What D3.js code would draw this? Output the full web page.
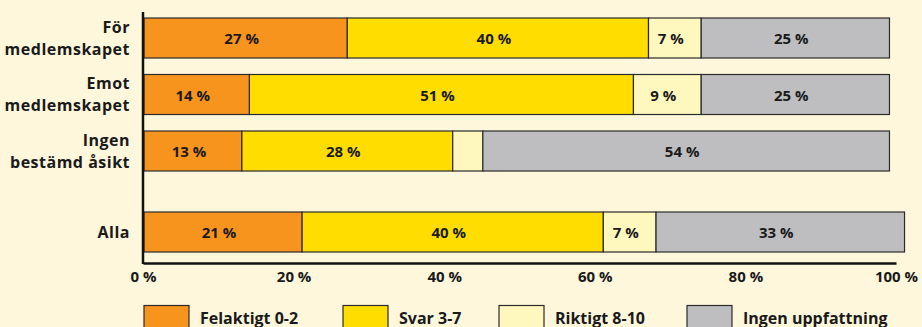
<!DOCTYPE html>
<html>
<head>
<meta charset="utf-8">
<script src="https://cdn.jsdelivr.net/npm/d3@7"></script>
<style>
  html, body { margin: 0; padding: 0; background: #FEF7DC; }
  svg { display: block; font-family: "Open Sans", "Noto Sans", sans-serif; font-weight: 700; }
</style>
</head>
<body>
<svg id="chart" width="922" height="327"></svg>
<script>
// Opinion groups (label lines) and the overall row
const categories = [
  ["För", "medlemskapet"],
  ["Emot", "medlemskapet"],
  ["Ingen", "bestämd åsikt"],
  ["Alla"]
];
// Answer classes, in stacking order
const seriesNames = ["Felaktigt 0-2", "Svar 3-7", "Riktigt 8-10", "Ingen uppfattning"];
const seriesColors = ["#F7941E", "#FFDD00", "#FFF8BE", "#BEBEC0"];
// Shares in percent per group
const felaktigt = [27, 14, 13, 21];
const svar = [40, 51, 28, 40];
const riktigt = [7, 9, 4, 7];
const ingenUppfattning = [25, 25, 54, 33];
// Segments too narrow to carry a label
const showLabel = [[true, true, true, true], [true, true, true, true], [true, true, false, true], [true, true, true, true]];
const xTicks = [0, 20, 40, 60, 80, 100];

const seriesValues = [felaktigt, svar, riktigt, ingenUppfattning];

const svg = d3.select("#chart");
const x = d3.scaleLinear().domain([0, 100]).range([143, 896]);

const rowKeys = categories.map((c, i) => i);
// 56.5 px per row, 40 px bars
const y = d3.scaleBand().domain(rowKeys).range([18, 227.5]).paddingInner(16.5 / 56.5).paddingOuter(0);
const groupGap = 24.5; // extra space before the overall row
const rowY = i => y(i) + (i === categories.length - 1 ? groupGap : 0);
const bh = y.bandwidth();

// Stack the series per row
const table = rowKeys.map(i => {
  const row = { idx: i };
  seriesNames.forEach((s, k) => row[s] = seriesValues[k][i]);
  return row;
});
const stacked = d3.stack().keys(seriesNames)(table);

const gBars = svg.append("g");
stacked.forEach((layer, k) => {
  gBars.selectAll(null)
    .data(layer)
    .join("rect")
    .attr("x", d => x(d[0]) + 1)
    .attr("y", d => rowY(d.data.idx))
    .attr("width", d => x(d[1]) - x(d[0]))
    .attr("height", bh)
    .attr("fill", seriesColors[k])
    .attr("stroke", "#2b2b2b")
    .attr("stroke-width", 1.2);

  gBars.selectAll(null)
    .data(layer.filter(d => showLabel[d.data.idx][k]))
    .join("text")
    .attr("x", d => (x(d[0]) + x(d[1])) / 2 - 3)
    .attr("y", d => rowY(d.data.idx) + bh / 2 + 6)
    .attr("text-anchor", "middle")
    .attr("font-size", 15)
    .attr("fill", "#1a1a1a")
    .text(d => (d[1] - d[0]) + " %");
});

// Category labels
const gCat = svg.append("g");
categories.forEach((lines, i) => {
  const cy = rowY(i) + bh / 2;
  const lh = 22;
  const t = gCat.append("text")
    .attr("text-anchor", "end")
    .attr("font-size", 16)
    .attr("letter-spacing", 0.5)
    .attr("fill", "#1a1a1a");
  lines.forEach((ln, j) => {
    t.append("tspan")
      .attr("x", 130)
      .attr("y", cy + 5.5 + (j - (lines.length - 1) / 2) * lh)
      .text(ln);
  });
});

// Axes
const axisY = 263;
const xAxis = d3.axisBottom(x).tickValues(xTicks).tickSize(0).tickPadding(8).tickFormat(d => d + " %");
const gx = svg.append("g").attr("transform", `translate(0,${axisY})`).call(xAxis);
gx.select(".domain").attr("stroke", "#111").attr("stroke-width", 2.5);
gx.selectAll(".tick text")
  .attr("font-size", 15)
  .attr("font-family", "'Open Sans', sans-serif")
  .attr("font-weight", 700)
  .attr("fill", "#1a1a1a");

svg.append("line")
  .attr("x1", x(0)).attr("x2", x(0))
  .attr("y1", 12).attr("y2", axisY + 1)
  .attr("stroke", "#111").attr("stroke-width", 2.5);

// Legend
const legendX = [144, 343, 499, 687];
const gLeg = svg.append("g");
seriesNames.forEach((s, k) => {
  gLeg.append("rect")
    .attr("x", legendX[k]).attr("y", 305.5)
    .attr("width", 45).attr("height", 30)
    .attr("fill", seriesColors[k])
    .attr("stroke", "#2b2b2b").attr("stroke-width", 1.2);
  gLeg.append("text")
    .attr("x", legendX[k] + 56).attr("y", 324)
    .attr("font-size", 16)
    .attr("fill", "#1a1a1a")
    .text(s);
});
</script>
</body>
</html>
